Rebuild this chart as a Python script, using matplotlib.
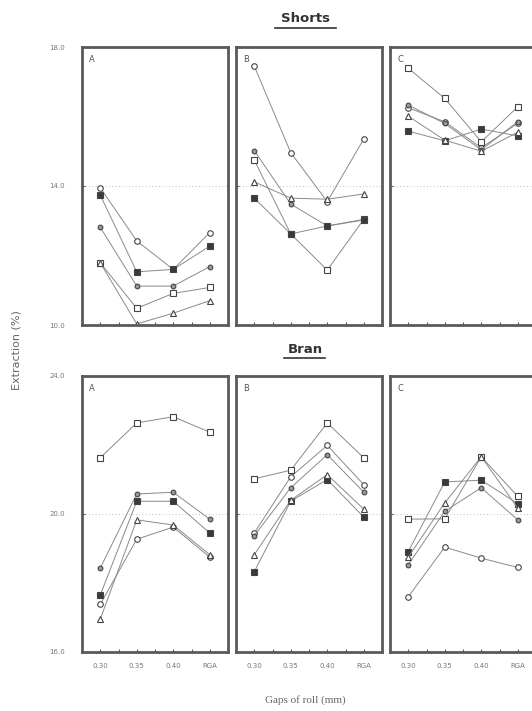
import numpy as np
import matplotlib
matplotlib.use("Agg")
import matplotlib.pyplot as plt
from matplotlib.lines import Line2D

gaps = ["0.30", "0.35", "0.40", "RGA"]
panels = ["A", "B", "C"]

# shorts, five treatments per panel (open circle, gray circle, open square, filled square, triangle)
shorts_A = [[13.95, 12.42, 11.60, 12.66],
            [12.81, 11.12, 11.12, 11.68],
            [11.79, 10.48, 10.91, 11.08],
            [13.74, 11.53, 11.60, 12.27],
            [11.79, 10.03, 10.34, 10.70]]
shorts_B = [[17.45, 14.96, 13.55, 15.35],
            [15.02, 13.48, 12.85, 13.04],
            [14.75, 12.62, 11.58, 13.04],
            [13.65, 12.62, 12.85, 13.02],
            [14.12, 13.65, 13.62, 13.77]]
shorts_C = [[16.25, 15.85, 15.10, 15.80],
            [16.33, 15.80, 15.04, 15.85],
            [17.39, 16.52, 15.27, 16.28],
            [15.58, 15.30, 15.64, 15.44],
            [16.01, 15.32, 15.00, 15.55]]

bran_A = [[17.38, 19.27, 19.62, 18.75],
          [18.43, 20.58, 20.63, 19.85],
          [21.63, 22.64, 22.82, 22.37],
          [17.65, 20.37, 20.37, 19.45],
          [16.95, 19.83, 19.68, 18.82]]
bran_B = [[19.45, 21.08, 21.99, 20.85],
          [19.37, 20.76, 21.72, 20.63],
          [21.02, 21.27, 22.64, 21.63],
          [18.33, 20.37, 21.00, 19.91],
          [18.82, 20.40, 21.14, 20.14]]
bran_C = [[17.60, 19.04, 18.72, 18.45],
          [18.53, 20.08, 20.76, 19.83],
          [19.85, 19.86, 21.66, 20.51],
          [18.91, 20.93, 20.98, 20.30],
          [18.75, 20.32, 21.66, 20.17]]

shorts = [shorts_A, shorts_B, shorts_C]
bran = [bran_A, bran_B, bran_C]
shorts_ticks = [10.0, 14.0, 18.0]
bran_ticks = [16.0, 20.0, 24.0]

styles = [dict(marker="o", mfc="white", ms=4),
          dict(marker="o", mfc="#999999", ms=3.4),
          dict(marker="s", mfc="white", ms=4),
          dict(marker="s", mfc="#3a3a3a", ms=4),
          dict(marker="^", mfc="white", ms=4)]

W, H = 532, 711
fig = plt.figure(figsize=(W / 100, H / 100), dpi=100)

lefts = [82, 236, 390]
pw = 146
rows = [(47, 325, shorts, shorts_ticks), (376, 652, bran, bran_ticks)]

x = np.arange(len(gaps))
for r, (top, bot, data, yt) in enumerate(rows):
    for c, left in enumerate(lefts):
        ax = fig.add_axes([left / W, 1 - bot / H, pw / W, (bot - top) / H])
        for s, st in zip(data[c], styles):
            ax.plot(x, s, color="#8a8a8a", lw=0.7, mec="#444444", mew=0.8,
                    marker=st["marker"], mfc=st["mfc"], ms=st["ms"])
        ax.set_xlim(-0.5, 3.5)
        ax.set_ylim(yt[0], yt[-1])
        ax.axhline(yt[1], color="#aaaaaa", lw=0.6, ls=(0, (1, 3)), zorder=0)
        ax.set_xticks(x)
        ax.set_xticks(np.arange(0, 3.01, 0.5), minor=True)
        ax.set_yticks(yt)
        ax.tick_params(axis="both", which="both", direction="in", length=2.5,
                       width=0.8, color="#555555", labelsize=5, labelcolor="#777777")
        if r == 1:
            ax.set_xticklabels(gaps)
            ax.tick_params(axis="x", pad=8)
        else:
            ax.set_xticklabels([])
        if c == 0:
            ax.set_yticklabels([f"{v:.1f}" for v in yt])
            ax.tick_params(axis="y", pad=12)
        else:
            ax.set_yticklabels([])
        for sp in ax.spines.values():
            sp.set_linewidth(2.0)
            sp.set_color("#5a5a5a")
        ax.text(0.05, 0.97, panels[c], transform=ax.transAxes, fontsize=6,
                color="#555555", va="top", ha="left")

# titles with underline
for txt, yc, x0, x1 in [("Shorts", 19, 275, 336), ("Bran", 349, 284, 325)]:
    fig.text(305 / W, 1 - yc / H, txt, ha="center", va="center",
             fontsize=9.5, fontweight="bold", color="#333333")
    fig.add_artist(Line2D([x0 / W, x1 / W], [1 - (yc + 9) / H] * 2,
                          color="#333333", lw=1.2))

fig.text(17 / W, 1 - 350 / H, "Extraction (%)", rotation=90, ha="center",
         va="center", fontsize=8, color="#666666")
fig.text(305 / W, 1 - 700 / H, "Gaps of roll (mm)", ha="center", va="center",
         fontsize=8, color="#666666", family="Liberation Serif")

fig.savefig("out.png", dpi=100)
